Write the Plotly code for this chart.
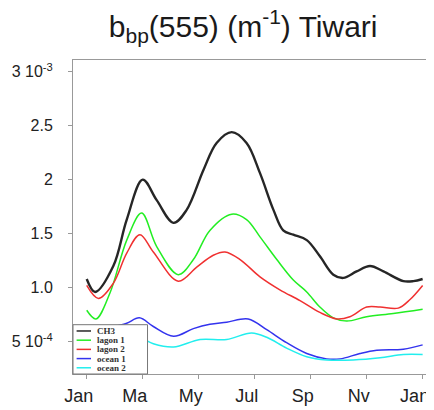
import plotly.graph_objects as go

# months from Jan (0) to next Jan (12); values in units of 1e-3 m^-1
ch3_month = [0, 0.3, 0.95, 1.43, 2.0, 2.5, 3.1, 3.57, 4.17, 4.64, 5.18, 5.71, 6.19, 6.67,
             7.02, 7.38, 7.86, 8.33, 8.81, 9.17, 9.64, 10.12, 10.6, 11.31, 11.67, 12]
ch3_val = [1.08, 0.96, 1.2, 1.63, 2.0, 1.81, 1.6, 1.72, 2.09, 2.34, 2.44, 2.34, 2.06, 1.72,
           1.53, 1.49, 1.44, 1.29, 1.12, 1.09, 1.15, 1.2, 1.15, 1.06, 1.06, 1.08]

lagon1_month = [0, 0.33, 0.83, 1.43, 1.96, 2.5, 3.27, 3.81, 4.4, 5.18, 5.71, 6.19, 6.79,
                7.38, 7.86, 8.33, 8.81, 9.29, 10.0, 10.95, 12]
lagon1_val = [0.79, 0.71, 0.95, 1.44, 1.69, 1.38, 1.12, 1.26, 1.53, 1.68, 1.63, 1.47, 1.26,
              1.07, 0.96, 0.82, 0.72, 0.69, 0.73, 0.76, 0.8]

lagon2_month = [0, 0.42, 0.95, 1.43, 1.9, 2.38, 3.27, 3.93, 4.52, 4.94, 5.48, 6.19, 6.9,
                7.62, 8.33, 8.93, 9.4, 10.0, 10.48, 11.13, 11.55, 12]
lagon2_val = [1.02, 0.9, 1.04, 1.32, 1.49, 1.33, 1.06, 1.19, 1.3, 1.33, 1.26, 1.1, 0.98,
              0.88, 0.77, 0.71, 0.73, 0.82, 0.82, 0.81, 0.89, 1.02]

ocean1_month = [0, 0.5, 1.0, 1.43, 1.88, 2.38, 3.1, 3.81, 4.4, 5.0, 5.77, 6.43, 7.14,
                7.86, 8.57, 9.05, 9.76, 10.36, 11.31, 12]
ocean1_val = [0.62, 0.6, 0.64, 0.67, 0.72, 0.64, 0.55, 0.62, 0.66, 0.68, 0.71, 0.61, 0.49,
              0.39, 0.34, 0.34, 0.39, 0.42, 0.43, 0.47]

ocean2_month = [0, 0.5, 1.0, 1.5, 1.96, 2.38, 3.1, 4.05, 5.0, 5.89, 6.43, 7.14, 7.86,
                8.57, 9.52, 10.48, 11.31, 12]
ocean2_val = [0.55, 0.52, 0.54, 0.55, 0.53, 0.48, 0.45, 0.52, 0.52, 0.58, 0.54, 0.44, 0.36,
              0.33, 0.33, 0.35, 0.38, 0.38]

tick_months = [0, 2, 4, 6, 8, 10, 12]
tick_month_labels = ["Jan", "Ma", "My", "Jul", "Sp", "Nv", "Jan"]
tick_vals = [0.5, 1.0, 1.5, 2.0, 2.5, 3.0]
tick_val_labels = ["5 10<sup>-4</sup>", "1.0", "1.5", "2", "2.5", "3 10<sup>-3</sup>"]

series = [
    ("CH3", ch3_month, ch3_val, "#262626", 2.4),
    ("lagon 1", lagon1_month, lagon1_val, "#22ee22", 1.5),
    ("lagon 2", lagon2_month, lagon2_val, "#f03030", 1.5),
    ("ocean 1", ocean1_month, ocean1_val, "#3333ee", 1.5),
    ("ocean 2", ocean2_month, ocean2_val, "#22eeee", 1.5),
]

fig = go.Figure()
for name, xs, ys, col, w in series:
    fig.add_trace(go.Scatter(x=xs, y=ys, name=name, mode="lines", showlegend=False,
                             line=dict(color=col, width=w, shape="spline", smoothing=1.0)))

# compact boxed legend in the lower-left corner (plotly's own legend rows are too tall)
shapes = [dict(type="rect", xref="paper", yref="paper", x0=0, x1=0.207, y0=0, y1=0.157,
               fillcolor="white", line=dict(color="#777", width=1), layer="above")]
notes = []
for i, (name, xs, ys, col, w) in enumerate(series):
    yy = 0.137 - i * 0.0293
    shapes.append(dict(type="line", xref="paper", yref="paper", x0=0.01, x1=0.05,
                       y0=yy, y1=yy, line=dict(color=col, width=1.5), layer="above"))
    notes.append(dict(text="<b>" + name + "</b>", xref="paper", yref="paper", x=0.06, y=yy,
                      xanchor="left", yanchor="middle", showarrow=False,
                      font=dict(family="Liberation Serif, serif", size=9, color="#333")))

# page body adds 8px, so the figure is 8px smaller than the window
fig.update_layout(
    width=426, height=402,
    margin=dict(l=65, r=1, t=52, b=36),
    paper_bgcolor="white", plot_bgcolor="white",
    title=dict(text="b<sub>bp</sub>(555) (m<sup>-1</sup>) Tiwari",
               x=0.552, xanchor="center", y=0.955, yanchor="middle",
               font=dict(family="Liberation Sans, Arial", size=30, color="#1a1a1a")),
    font=dict(family="Liberation Sans, Arial", size=16, color="#222"),
    shapes=shapes, annotations=notes,
    showlegend=False,
)
fig.update_xaxes(range=[-0.49, 12.37], tickvals=tick_months, ticktext=tick_month_labels,
                 showgrid=False, zeroline=False, showline=True, mirror=True,
                 linecolor="#999", linewidth=1, ticks="outside", ticklen=4, tickcolor="#999",
                 automargin=False, ticklabeloverflow="allow", ticklabelstandoff=1,
                 ticklabelshift=-8, tickfont=dict(size=18))
fig.update_yaxes(range=[0.2, 3.108], tickvals=tick_vals, ticktext=tick_val_labels,
                 showgrid=False, zeroline=False, showline=True, mirror=True,
                 linecolor="#999", linewidth=1, ticks="outside", ticklen=4, tickcolor="#999",
                 automargin=False, ticklabeloverflow="allow", ticklabelstandoff=12)

fig.write_html("out.html")
